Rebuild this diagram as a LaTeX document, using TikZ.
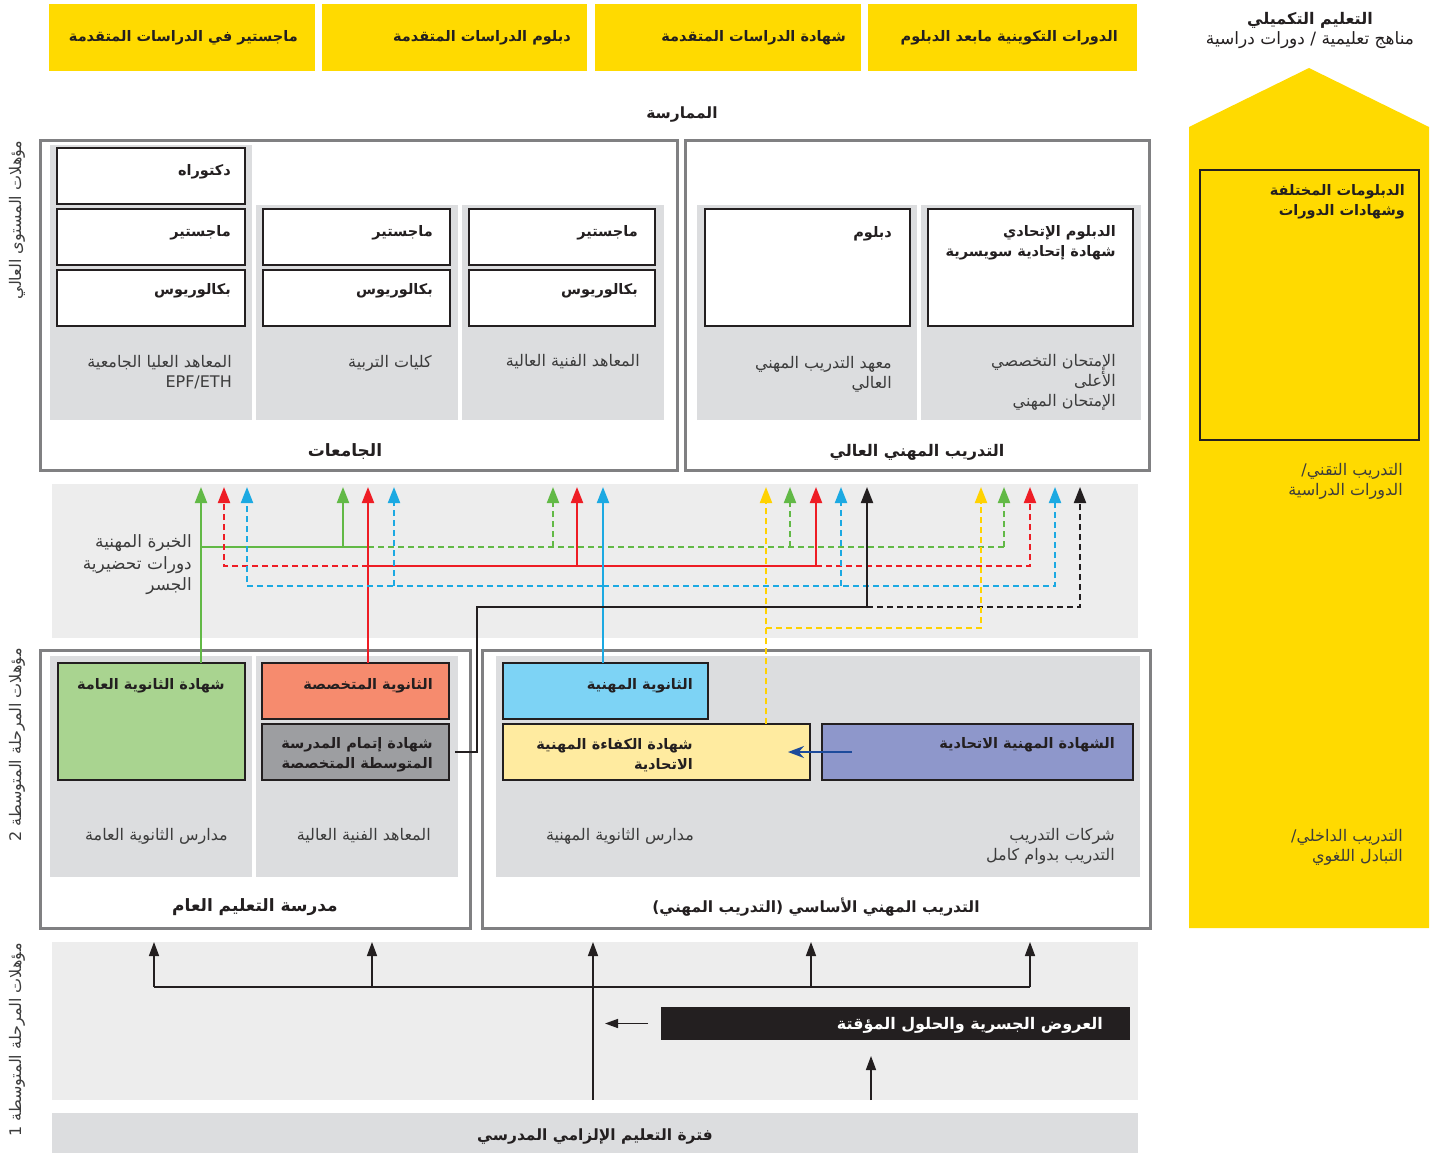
\documentclass[tikz,border=0pt]{standalone}
\usepackage{fontspec}
\setmainfont{DejaVu Sans}[Script=Arabic]
\TeXXeTstate=1
\usetikzlibrary{arrows.meta}

\definecolor{gelb}{HTML}{FFDA00}
\definecolor{framegrey}{HTML}{808082}
\definecolor{panelgrey}{HTML}{DCDDDF}
\definecolor{bandgrey}{HTML}{EDEDED}
\definecolor{ink}{HTML}{231F20}
\definecolor{inkgrey}{HTML}{3C3C3C}
\definecolor{lgreen}{HTML}{62B946}
\definecolor{lred}{HTML}{EE1D25}
\definecolor{lblue}{HTML}{1CA9E2}
\definecolor{lyellow}{HTML}{FFD200}
\definecolor{boxgreen}{HTML}{A9D490}
\definecolor{boxorange}{HTML}{F68B6E}
\definecolor{boxgrey}{HTML}{9D9EA1}
\definecolor{boxblue}{HTML}{7DD3F5}
\definecolor{boxyellow}{HTML}{FFEBA0}
\definecolor{boxpurple}{HTML}{8E97CB}
\definecolor{navy}{HTML}{1D4B9B}

\newcommand{\artx}[1]{\beginR #1\endR}

\begin{document}
\begin{tikzpicture}[x=1pt, y=-1pt,
    rect/.style={rectangle, inner sep=0pt, outer sep=0pt, anchor=north west},
    frame/.style={rect, draw=framegrey, line width=3pt, fill=white},
    panel/.style={rect, fill=panelgrey},
    band/.style={rect, fill=bandgrey},
    cert/.style={rect, draw=ink, line width=1.3pt, fill=white},
    head/.style={font=\bfseries\fontsize{14.5}{20}\selectfont, text=ink, align=right, anchor=east, inner sep=0pt, yshift=-2pt},
    note/.style={font=\fontsize{16}{20}\selectfont, text=inkgrey, align=right, anchor=east, inner sep=0pt, yshift=-2pt},
    title/.style={font=\bfseries\fontsize{16.5}{20}\selectfont, text=ink, inner sep=0pt, yshift=-2pt},
    side/.style={font=\fontsize{16}{18}\selectfont, text=inkgrey, rotate=90, inner sep=0pt},
    link/.style={line width=2pt},
    dsh/.style={dash pattern=on 6pt off 4pt},
    arrup/.style={-{Triangle[length=16pt,width=12pt]}},
    arrsm/.style={-{Triangle[length=14pt,width=10pt]}},
    thin/.style={draw=ink, line width=1.5pt}]
\useasboundingbox (0,0) rectangle (1438,1153);

% top row
\node[rect, fill=gelb, minimum width=266, minimum height=67] (tb1) at (49,4) {};
\node[rect, fill=gelb, minimum width=265, minimum height=67] (tb2) at (322,4) {};
\node[rect, fill=gelb, minimum width=266, minimum height=67] (tb3) at (595,4) {};
\node[rect, fill=gelb, minimum width=269, minimum height=67] (tb4) at (868,4) {};
\node[head, font=\bfseries\fontsize{14.5}{20}\selectfont] (tt1) at (298,36) {\artx{ماجستير في الدراسات المتقدمة}};
\node[head, font=\bfseries\fontsize{14.5}{20}\selectfont] (tt2) at (571,36) {\artx{دبلوم الدراسات المتقدمة}};
\node[head, font=\bfseries\fontsize{14.5}{20}\selectfont] (tt3) at (846,36) {\artx{شهادة الدراسات المتقدمة}};
\node[head, font=\bfseries\fontsize{14.5}{20}\selectfont] (tt4) at (1118,36) {\artx{الدورات التكوينية مابعد الدبلوم}};
\node[title, font=\bfseries\fontsize{15.5}{20}\selectfont] (praxis) at (682,113) {\artx{الممارسة}};

% right column
\fill[gelb] (1189,928) -- (1189,127) -- (1309,68) -- (1429,127) -- (1429,928) -- cycle;
\node[rect, draw=ink, line width=1.2pt, minimum width=219, minimum height=270] (diplo) at (1200,170) {};
\node[head] (tdiplo) at (1405,200) {\artx{الدبلومات المختلفة}\\\artx{وشهادات الدورات}};
\node[note] (ttech) at (1403,479) {\artx{التدريب التقني/}\\\artx{الدورات الدراسية}};
\node[note] (tintern) at (1403,845) {\artx{التدريب الداخلي/}\\\artx{التبادل اللغوي}};
\node[align=center, inner sep=0pt, font=\fontsize{17}{20}\selectfont, text=ink, yshift=-1pt] (tcompl) at (1310,29)
  {{\bfseries\fontsize{16}{20}\selectfont\artx{التعليم التكميلي}}\\\artx{مناهج تعليمية / دورات دراسية}};

% universities
\node[frame, minimum width=637, minimum height=329] (uni) at (40,141) {};
\node[panel, minimum width=202, minimum height=275] (pA) at (50,145) {};
\node[panel, minimum width=202, minimum height=215] (pB) at (256,205) {};
\node[panel, minimum width=202, minimum height=215] (pC) at (462,205) {};
\node[cert, minimum width=188, minimum height=56] (dok) at (57,148) {};
\node[cert, minimum width=188, minimum height=56] (mA) at (57,209) {};
\node[cert, minimum width=188, minimum height=56] (bA) at (57,270) {};
\node[cert, minimum width=187, minimum height=56] (mB) at (263,209) {};
\node[cert, minimum width=187, minimum height=56] (bB) at (263,270) {};
\node[cert, minimum width=186, minimum height=56] (mC) at (469,209) {};
\node[cert, minimum width=186, minimum height=56] (bC) at (469,270) {};
\node[head] (tdok) at (231,170) {\artx{دكتوراه}};
\node[head] (tmA) at (231,231) {\artx{ماجستير}};
\node[head] (tbA) at (231,289) {\artx{بكالوريوس}};
\node[head] (tmB) at (433,231) {\artx{ماجستير}};
\node[head] (tbB) at (433,289) {\artx{بكالوريوس}};
\node[head] (tmC) at (638,231) {\artx{ماجستير}};
\node[head] (tbC) at (638,289) {\artx{بكالوريوس}};
\node[note] (lA) at (232,370) {\artx{المعاهد العليا الجامعية}\\EPF/ETH};
\node[note] (lB) at (432,361) {\artx{كليات التربية}};
\node[note] (lC) at (640,360) {\artx{المعاهد الفنية العالية}};
\node[title, font=\bfseries\fontsize{17}{20}\selectfont] (tuni) at (345,450) {\artx{الجامعات}};

% higher vocational training
\node[frame, minimum width=464, minimum height=329] (hvt) at (685,141) {};
\node[panel, minimum width=220, minimum height=215] (pD) at (697,205) {};
\node[panel, minimum width=220, minimum height=215] (pE) at (921,205) {};
\node[cert, minimum width=205, minimum height=117] (dipD) at (705,209) {};
\node[cert, minimum width=205, minimum height=117] (dipE) at (928,209) {};
\node[head] (tdipD) at (892,232) {\artx{دبلوم}};
\node[head] (tdipE) at (1116,241) {\artx{الدبلوم الإتحادي}\\\artx{شهادة إتحادية سويسرية}};
\node[note] (lD) at (892,372) {\artx{معهد التدريب المهني}\\\artx{العالي}};
\node[note] (lE) at (1116,380) {\artx{الإمتحان التخصصي}\\\artx{الأعلى}\\\artx{الإمتحان المهني}};
\node[title, font=\bfseries\fontsize{16}{20}\selectfont] (thvt) at (917,450) {\artx{التدريب المهني العالي}};

% bridge band
\node[band, minimum width=1086, minimum height=154] (mid) at (52,484) {};
\node[note, font=\fontsize{17}{21.5}\selectfont] (tmid) at (192,563) {\artx{الخبرة المهنية}\\\artx{دورات تحضيرية}\\\artx{الجسر}};

% general school
\node[frame, minimum width=430, minimum height=278] (gen) at (40,650) {};
\node[panel, minimum width=202, minimum height=221] (pF) at (50,656) {};
\node[panel, minimum width=202, minimum height=221] (pG) at (256,656) {};
\node[cert, fill=boxgreen, minimum width=187, minimum height=117] (gsec) at (58,663) {};
\node[cert, fill=boxorange, minimum width=187, minimum height=56] (ssec) at (262,663) {};
\node[cert, fill=boxgrey, minimum width=187, minimum height=56] (mcert) at (262,724) {};
\node[head] (tgsec) at (225,684) {\artx{شهادة الثانوية العامة}};
\node[head] (tssec) at (433,684) {\artx{الثانوية المتخصصة}};
\node[head] (tmcert) at (433,753) {\artx{شهادة إتمام المدرسة}\\\artx{المتوسطة المتخصصة}};
\node[note] (lF) at (228,834) {\artx{مدارس الثانوية العامة}};
\node[note] (lG) at (431,834) {\artx{المعاهد الفنية العالية}};
\node[title, font=\bfseries\fontsize{17}{20}\selectfont] (tgen) at (255,905) {\artx{مدرسة التعليم العام}};

% vocational training
\node[frame, minimum width=668, minimum height=278] (voc) at (482,650) {};
\node[panel, minimum width=644, minimum height=221] (pH) at (496,656) {};
\node[cert, fill=boxblue, minimum width=205, minimum height=56] (bsec) at (503,663) {};
\node[cert, fill=boxyellow, minimum width=307, minimum height=56] (ycert) at (503,724) {};
\node[cert, fill=boxpurple, minimum width=311, minimum height=56] (pcert) at (822,724) {};
\node[head] (tbsec) at (693,684) {\artx{الثانوية المهنية}};
\node[head] (tycert) at (693,753) {\artx{شهادة الكفاءة المهنية}\\\artx{الاتحادية}};
\node[head] (tpcert) at (1115,743) {\artx{الشهادة المهنية الاتحادية}};
\node[note] (lH) at (694,834) {\artx{مدارس الثانوية المهنية}};
\node[note] (lI) at (1115,844) {\artx{شركات التدريب}\\\artx{التدريب بدوام كامل}};
\node[title, font=\bfseries\fontsize{15.5}{20}\selectfont] (tvoc) at (816,905) {\artx{التدريب المهني الأساسي (التدريب المهني)}};
\draw[navy, line width=2pt, -{Stealth[length=16pt,width=12pt]}] ([xshift=30]pcert.west) -- ([xshift=-22]ycert.east);

% lower band
\node[band, minimum width=1086, minimum height=158] (low) at (52,942) {};
\node[rect, fill=ink, minimum width=469, minimum height=33] (bridge) at (661,1007) {};
\node[head, text=white, font=\bfseries\fontsize{16}{20}\selectfont] (tbridge) at (1103,1023) {\artx{العروض الجسرية والحلول المؤقتة}};
\node[panel, minimum width=1086, minimum height=40] (comp) at (52,1113) {};
\node[title, font=\bfseries\fontsize{15.5}{20}\selectfont] (tcomp) at (595,1134) {\artx{فترة التعليم الإلزامي المدرسي}};

% side labels
\node[side] (sA) at (17,220) {\artx{مؤهلات المستوى العالي}};
\node[side] (sB) at (17,745) {\artx{مؤهلات المرحلة المتوسطة 2}};
\node[side] (sC) at (17,1040) {\artx{مؤهلات المرحلة المتوسطة 1}};

% arrow targets
\foreach \n/\x in {ga/201,ra/224,ba/247,gb/343,rb/368,bb/394,gc/553,rc/577,bc/603,ya/766,gd/790,rd/816,bd/841,ka/867,yb/981,ge/1004,re/1030,be/1055,kb/1080}
  \coordinate (\n) at (\x,487);
\coordinate (rowG) at (0,547);
\coordinate (rowR) at (0,566);
\coordinate (rowB) at (0,586);
\coordinate (rowK) at (0,607);
\coordinate (rowY) at (0,628);
\coordinate (kturn) at (477,607);

% green
\draw[link, lgreen, arrup] (gsec.north -| ga) -- (ga);
\draw[link, lgreen] (ga |- rowG) -- (rb |- rowG);
\draw[link, lgreen, arrup] (gb |- rowG) -- (gb);
\draw[link, lgreen, dsh] (rb |- rowG) -- (ge |- rowG);
\foreach \t in {gc,gd,ge}
  \draw[link, lgreen, dsh, arrup] (\t |- rowG) -- (\t);

% red
\draw[link, lred, arrup] (ssec.north -| rb) -- (rb);
\draw[link, lred, dsh, arrup] (rb |- rowR) -- (ra |- rowR) -- (ra);
\draw[link, lred] (rb |- rowR) -- (rd |- rowR);
\draw[link, lred, arrup] (rc |- rowR) -- (rc);
\draw[link, lred, arrup] (rd |- rowR) -- (rd);
\draw[link, lred, dsh, arrup] (rd |- rowR) -- (re |- rowR) -- (re);

% blue
\draw[link, lblue, arrup] (bsec.north -| bc) -- (bc);
\draw[link, lblue, dsh, arrup] (bc |- rowB) -- (ba |- rowB) -- (ba);
\draw[link, lblue, dsh, arrup] (bb |- rowB) -- (bb);
\draw[link, lblue, dsh, arrup] (bc |- rowB) -- (be |- rowB) -- (be);
\draw[link, lblue, dsh, arrup] (bd |- rowB) -- (bd);

% black
\draw[link, ink, arrup] ([xshift=6]mcert.east) -| (kturn) -- (ka |- kturn) -- (ka);
\draw[link, ink, dsh, arrup] (ka |- rowK) -- (kb |- rowK) -- (kb);

% yellow
\draw[link, lyellow, dsh, arrup] (ycert.north -| ya) -- (ya);
\draw[link, lyellow, dsh, arrup] (ya |- rowY) -- (yb |- rowY) -- (yb);

% lower arrows
\foreach \n/\x in {oa/154,ob/372,oc/593,od/811,oe/1030}
  \coordinate (\n) at (\x,942);
\coordinate (rowO) at (0,987);
\coordinate (bup) at (871,1056);
\draw[thin, arrsm] (low.south -| oc) -- (oc);
\draw[thin] (oa |- rowO) -- (oe |- rowO);
\foreach \t in {oa,ob,od,oe}
  \draw[thin, arrsm] (\t |- rowO) -- (\t);
\draw[thin, -{Triangle[length=13pt,width=9pt]}] ([xshift=-13]bridge.west) -- ([xshift=12]bridge.west -| oc);
\draw[thin, arrsm] (low.south -| bup) -- (bup);
\end{tikzpicture}
\end{document}
